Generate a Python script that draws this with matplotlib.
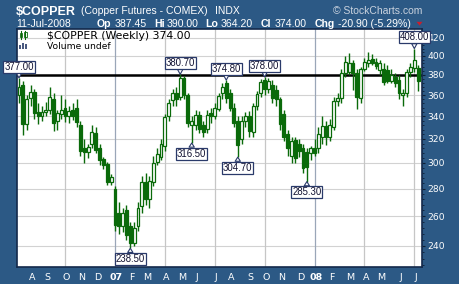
import matplotlib
matplotlib.use("Agg")
import matplotlib.pyplot as plt
from matplotlib.patches import Rectangle, Polygon
from matplotlib.ticker import FixedLocator, NullFormatter
import numpy as np
import pandas as pd

# weekly bars, $COPPER, Jul 2006 - Jul 2008
weeks = pd.date_range("2006-07-14", periods=105, freq="W-FRI")

opens = [360, 370, 333, 357, 363, 344, 340, 344, 346, 356,
         336, 342, 348, 340, 346, 348, 332, 312, 309, 316,
         325, 312, 303, 299, 285, 280, 262, 253, 264, 253,
         242, 253, 267, 285, 272, 285, 301, 305, 314, 340,
         355, 362, 358, 377, 360, 332, 332, 341, 332, 329,
         343, 340, 347, 362, 372, 362, 348, 336, 320, 336,
         340, 326, 350, 362, 375, 366, 370, 365, 356, 342,
         324, 306, 319, 316, 312, 309, 308, 312, 312, 322,
         331, 322, 330, 354, 357, 382, 383, 392, 382, 357,
         386, 392, 397, 394, 385, 386, 385, 374, 378, 375,
         360, 362, 383, 387, 387.45]
highs = [377, 374, 360, 370, 366, 352, 350, 353, 368, 362,
         346, 360, 356, 350, 352, 356, 336, 320, 316, 332,
         330, 316, 305, 301, 291, 282, 270, 266, 268, 256,
         256, 270, 290, 292, 290, 306, 312, 320, 342, 356,
         366, 368, 380.7, 379, 362, 340, 346, 345, 336, 346,
         348, 352, 362, 372, 374.8, 366, 352, 340, 340, 344,
         345, 352, 364, 376, 378, 377, 375, 370, 358, 346,
         328, 322, 322, 320, 316, 312, 314, 320, 330, 340,
         336, 338, 358, 362, 386, 400, 403, 396, 386, 388,
         398, 404, 402, 398, 396, 392, 390, 386, 382, 380,
         366, 386, 392, 408, 390]
lows = [352, 323, 328, 350, 338, 333, 336, 340, 342, 327,
        328, 338, 335, 334, 337, 330, 306, 300, 304, 312,
        308, 298, 295, 283, 283, 250, 248, 249, 244, 238.5,
        240, 250, 262, 268, 266, 282, 298, 302, 310, 336,
        350, 350, 355, 356, 330, 316.5, 328, 325, 322, 325,
        334, 338, 345, 356, 352, 345, 330, 304.7, 316, 330,
        322, 322, 346, 358, 360, 362, 352, 350, 328, 318,
        306, 300, 300, 305, 292, 285.3, 302, 306, 308, 316,
        315, 318, 328, 350, 352, 378, 380, 365, 347, 352,
        384, 388, 390, 386, 380, 370, 372, 372, 368, 356,
        350, 358, 378, 383, 364.2]
closes = [368, 333, 356, 363, 343, 340, 344, 346, 358, 334,
          343, 346, 340, 345, 340, 335, 310, 309, 313, 326,
          311, 302, 298, 285, 289, 254, 253, 262, 247, 242,
          252, 266, 285, 272, 286, 300, 307, 316, 339, 352,
          362, 356, 377, 360, 334, 336, 341, 329, 326, 341,
          340, 348, 359, 368, 357, 348, 334, 315, 336, 340,
          327, 350, 361, 373, 366, 374, 357, 356, 333, 322,
          312, 318, 304, 310, 296, 297, 312, 308, 324, 331,
          322, 332, 354, 357, 382, 393, 392, 382, 358, 386,
          394, 396, 392, 389, 392, 373, 374, 380, 372, 362,
          362, 383, 388, 396, 374]

# labelled swing highs / lows
mark_week = [0, 42, 45, 54, 57, 64, 75, 29, 103]
mark_value = [377.00, 380.70, 316.50, 374.80, 304.70, 378.00, 285.30, 238.50, 408.00]
mark_side = ["hi", "hi", "lo", "hi", "lo", "hi", "lo", "lo", "hi"]

price_ticks = [240, 260, 280, 300, 320, 340, 360, 380, 400, 420]
level_line = 380

BG = "#2c5985"
GREEN = "#0a6a0a"
W, H = 460, 284


def P(x, y):
    return (x / W, 1 - y / H)


fig = plt.figure(figsize=(4.6, 2.84), dpi=100)
fig.patch.set_facecolor(BG)
ax = fig.add_axes([17 / W, 17 / H, 405 / W, 238 / H])
ax.set_facecolor("white")

o = np.array(opens, float)
h = np.array(highs, float)
l = np.array(lows, float)
c = np.array(closes, float)
x = np.arange(len(c))
up = c >= o
bot = np.minimum(o, c)
hgt = np.maximum(np.abs(c - o), 0.6)

ax.set_yscale("log")
ax.set_ylim(226.8, 430)
ax.set_xlim(-0.52, 105.0)

# grid
for p in price_ticks:
    ax.axhline(p, color="#d2d2d2", lw=0.8, zorder=0)
month_pos = [i for i in range(1, len(weeks)) if weeks[i].month != weeks[i - 1].month]
for i in month_pos:
    if weeks[i].month in (1, 4, 7, 10):
        col = "#9aa6b8" if weeks[i].month == 1 else "#c6c6c6"
        ax.axvline(i, color=col, lw=0.9, zorder=0)

ax.axhline(level_line, color="black", lw=1.8, zorder=2)

ax.vlines(x, l, h, color=GREEN, lw=1.0, zorder=3)
ax.bar(x[up], hgt[up], bottom=bot[up], width=0.75, color="white",
       edgecolor=GREEN, lw=0.9, zorder=4)
ax.bar(x[~up], hgt[~up], bottom=bot[~up], width=0.75, color=GREEN,
       edgecolor=GREEN, lw=0.9, zorder=4)

for i, v, s in zip(mark_week, mark_value, mark_side):
    dy = 4.5 if s == "hi" else -4.0
    ax.annotate(f"{v:.2f}", xy=(i, v), xytext=(0, dy), textcoords="offset points",
                ha="center", va="bottom" if s == "hi" else "top",
                fontsize=6.9, family="Liberation Sans", color="#101030", zorder=6,
                bbox=dict(boxstyle="square,pad=0.1", fc="white", ec="#2a3a6a", lw=0.9),
                arrowprops=dict(arrowstyle="wedge,tail_width=0.55", fc="white",
                                ec="#2a3a6a", lw=0.8, shrinkA=0, shrinkB=0),
                annotation_clip=False)

# axes look
ax.yaxis.tick_right()
ax.yaxis.set_major_locator(FixedLocator(price_ticks))
ax.yaxis.set_major_formatter(matplotlib.ticker.FixedFormatter([str(p) for p in price_ticks]))
ax.yaxis.set_minor_locator(FixedLocator(range(228, 430, 4)))
ax.yaxis.set_minor_formatter(NullFormatter())
ax.tick_params(axis="y", which="major", colors="#0f1f35", length=2.5, width=0.8,
               pad=1.2, labelsize=6.6, labelcolor="white")
ax.tick_params(axis="y", which="minor", colors="#0f1f35", length=1.3, width=0.6)

month_lbl = [weeks[i].strftime("%y") if weeks[i].month == 1 else weeks[i].strftime("%b")[0]
             for i in month_pos]
ax.set_xticks([i + 0.4 for i in month_pos])
ax.set_xticklabels(month_lbl)
ax.tick_params(axis="x", length=0, pad=4, labelsize=6.8, labelcolor="white")
for t, i in zip(ax.get_xticklabels(), month_pos):
    if weeks[i].month == 1:
        t.set_fontweight("bold")

for sp in ax.spines.values():
    sp.set_color("#13294b")
    sp.set_linewidth(1.2)

# legend inside plot
ax.text(30 / 405, 1 - 10 / 238, "$COPPER (Weekly) 374.00", transform=ax.transAxes,
        fontsize=7.8, color="black", va="baseline", zorder=7)
ax.text(30 / 405, 1 - 20 / 238, "Volume undef", transform=ax.transAxes,
        fontsize=6.6, color="black", va="baseline", zorder=7)


def rect(x0, y0, w, hh, **kw):
    xy = P(x0, y0 + hh)
    fig.add_artist(Rectangle(xy, w / W, hh / H, transform=fig.transFigure, **kw))


# legend icons
fig.add_artist(plt.Line2D([P(21, 0)[0]] * 2, [P(0, 31)[1], P(0, 39)[1]],
                          transform=fig.transFigure, color=GREEN, lw=0.8))
rect(20, 33, 2.2, 4, fc=GREEN, ec=GREEN, lw=0.5)
fig.add_artist(plt.Line2D([P(25.5, 0)[0]] * 2, [P(0, 31)[1], P(0, 39)[1]],
                          transform=fig.transFigure, color=GREEN, lw=0.8))
rect(24.5, 32, 2.2, 4.5, fc="white", ec=GREEN, lw=0.6)
rect(19.5, 45, 2, 4, fc="#4a5a80", ec="none")
rect(22.5, 43, 2, 6, fc="#4a5a80", ec="none")
rect(25.5, 44, 2, 5, fc="#4a5a80", ec="none")

# header
hdr = dict(color="white", va="baseline", family="Liberation Sans")
fig.text(*P(16, 15), "$COPPER", fontsize=9, weight="bold", **hdr)
fig.text(*P(81, 14), "(Copper Futures - COMEX)", fontsize=7.5, **hdr)
fig.text(*P(215, 14), "INDX", fontsize=7.5, **hdr)
fig.text(*P(422, 14), "\u00a9 StockCharts.com", fontsize=7.5, ha="right",
         color="#c9d2de", va="baseline", family="Liberation Sans")

line2 = [(16, "11-Jul-2008", "normal"), (97, "Op", "bold"), (115, "387.45", "normal"),
         (154, "Hi", "bold"), (167, "390.00", "normal"), (205, "Lo", "bold"),
         (221, "364.20", "normal"), (261, "Cl", "bold"), (275, "374.00", "normal"),
         (315, "Chg", "bold"), (338, "-20.90 (-5.29%)", "normal")]
for px, s, wt in line2:
    fig.text(*P(px, 27), s, fontsize=7.6, weight=wt, **hdr)
fig.add_artist(Polygon([P(416.5, 21.8), P(422.5, 21.8), P(419.5, 25.6)], closed=True,
                       transform=fig.transFigure, fc="#c81e2e", ec="none"))

fig.savefig("out.png", dpi=100, facecolor=BG)
